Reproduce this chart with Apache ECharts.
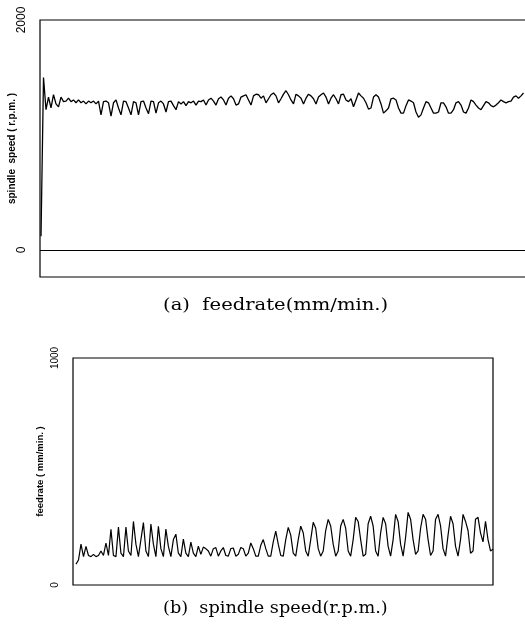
<!DOCTYPE html>
<html>
<head>
<meta charset="utf-8">
<script src="https://cdn.jsdelivr.net/npm/echarts@6/dist/echarts.min.js"></script>
<style>
    html, body { margin: 0; padding: 0; background: #fff; }
    #chart { width: 525px; height: 625px; }
</style>
</head>
<body>
<div id="chart"></div>
<script>
// (a) 主轴转速 spindle speed (r.p.m.), one sample every ~2.5 px
const spindleSpeed = [
    120, 1500, 1220, 1330, 1235, 1350, 1270, 1245, 1330, 1290,
    1295, 1320, 1290, 1305, 1280, 1305, 1280, 1295, 1270, 1295,
    1280, 1295, 1270, 1295, 1175, 1290, 1295, 1280, 1165, 1280,
    1305, 1235, 1175, 1295, 1290, 1235, 1175, 1290, 1280, 1175,
    1290, 1295, 1235, 1185, 1295, 1290, 1190, 1280, 1295, 1270,
    1200, 1290, 1295, 1255, 1220, 1290, 1270, 1290, 1255, 1290,
    1280, 1295, 1260, 1295, 1290, 1305, 1260, 1305, 1320, 1295,
    1260, 1315, 1330, 1305, 1260, 1320, 1340, 1315, 1260, 1270,
    1330, 1340, 1350, 1305, 1260, 1340, 1355, 1350, 1320, 1340,
    1280, 1315, 1350, 1365, 1340, 1280, 1315, 1355, 1385, 1350,
    1305, 1270, 1355, 1340, 1320, 1270, 1320, 1355, 1340, 1315,
    1270, 1330, 1350, 1365, 1330, 1270, 1320, 1350, 1315, 1270,
    1350, 1355, 1305, 1290, 1315, 1245, 1305, 1365, 1340, 1320,
    1280, 1225, 1235, 1330, 1350, 1330, 1270, 1190, 1210, 1235,
    1315, 1320, 1305, 1235, 1190, 1190, 1255, 1305, 1295, 1280,
    1200, 1155, 1175, 1235, 1290, 1280, 1235, 1190, 1190, 1200,
    1280, 1280, 1245, 1190, 1190, 1220, 1280, 1290, 1260, 1200,
    1190, 1235, 1305, 1290, 1260, 1235, 1220, 1255, 1290, 1280,
    1255, 1245, 1260, 1280, 1305, 1290, 1280, 1290, 1295, 1330,
    1340, 1320, 1340, 1365
];

// (b) 进给速度 feedrate (mm/min.)
const feedrate = [
    92, 110, 180, 125, 170, 130, 125, 135, 125, 130,
    150, 130, 185, 130, 245, 130, 125, 255, 140, 125,
    255, 150, 130, 280, 180, 125, 200, 275, 150, 125,
    268, 180, 125, 259, 160, 125, 246, 170, 125, 200,
    224, 140, 125, 202, 140, 125, 189, 140, 125, 171,
    135, 167, 160, 150, 127, 160, 165, 127, 150, 165,
    130, 127, 160, 163, 127, 135, 165, 160, 127, 140,
    185, 160, 127, 127, 175, 200, 160, 127, 127, 190,
    237, 180, 130, 127, 200, 254, 220, 140, 127, 200,
    259, 230, 150, 127, 200, 276, 250, 160, 127, 150,
    240, 289, 260, 180, 127, 150, 260, 289, 250, 150,
    127, 200, 298, 280, 200, 127, 135, 270, 303, 260,
    150, 127, 230, 298, 270, 170, 127, 200, 311, 280,
    180, 127, 210, 320, 290, 200, 135, 150, 250, 311,
    290, 200, 130, 150, 290, 311, 260, 160, 127, 220,
    303, 270, 170, 127, 200, 311, 280, 240, 140, 150,
    290, 298, 230, 190, 281, 200, 150, 158
];

// 刻度标签
const spindleTicks = [0, 2000];
const feedrateTicks = [0, 1000];

const chart = echarts.init(document.getElementById('chart'));

const toPairs = arr => arr.map((v, i) => [i, v]);

const axisFont = 'Liberation Sans, Arial, sans-serif';
const captionFont = '17px "DejaVu Serif", serif';

const option = {
    animation: false,
    backgroundColor: '#fff',
    // 图下说明文字
    graphic: [
        {
            type: 'text', x: 163, y: 306, scaleX: 1.15,
            style: { text: '(a)  feedrate(mm/min.)', font: captionFont, fill: '#000', textAlign: 'left', textVerticalAlign: 'middle' }
        },
        {
            type: 'text', x: 163, y: 609, scaleX: 1.04,
            style: { text: '(b)  spindle speed(r.p.m.)', font: captionFont, fill: '#000', textAlign: 'left', textVerticalAlign: 'middle' }
        }
    ],
    grid: [
        { left: 40, top: 20, width: 490, height: 257, show: true, borderColor: '#000', borderWidth: 1.2, outerBoundsMode: 'none', containLabel: false },
        { left: 73, top: 358, width: 420, height: 227, show: true, borderColor: '#000', borderWidth: 1.2, outerBoundsMode: 'none', containLabel: false }
    ],
    xAxis: [
        {
            gridIndex: 0, type: 'value', min: -0.4, max: 195.6,
            axisLine: { show: false }, axisTick: { show: false },
            axisLabel: { show: false }, splitLine: { show: false }
        },
        {
            gridIndex: 1, type: 'value', min: -1.2, max: 167,
            axisLine: { show: false }, axisTick: { show: false },
            axisLabel: { show: false }, splitLine: { show: false }
        }
    ],
    yAxis: [
        {
            gridIndex: 0, type: 'value', min: -235, max: 2000,
            name: 'spindle  speed ( r.p.m. )',
            nameLocation: 'middle',
            nameGap: 23,
            nameMoveOverlap: false,
            nameTextStyle: { fontFamily: axisFont, fontWeight: 'bold', fontSize: 10, color: '#000' },
            axisLine: { show: false },
            axisTick: { show: false },
            splitLine: { show: false },
            axisLabel: {
                customValues: spindleTicks,
                formatter: v => String(v),
                rotate: 90,
                margin: 12,
                fontFamily: axisFont, fontSize: 12, color: '#000'
            }
        },
        {
            gridIndex: 1, type: 'value', min: 0, max: 1000,
            name: 'feedrate ( mm/min. )',
            nameLocation: 'middle',
            nameGap: 28,
            nameMoveOverlap: false,
            nameTextStyle: { fontFamily: axisFont, fontWeight: 'bold', fontSize: 9.5, color: '#000' },
            axisLine: { show: false },
            axisTick: { show: false },
            splitLine: { show: false },
            axisLabel: {
                customValues: feedrateTicks,
                formatter: v => String(v),
                rotate: 90,
                margin: 13,
                fontFamily: axisFont, fontSize: 10, color: '#000'
            }
        }
    ],
    series: [
        {
            type: 'line',
            xAxisIndex: 0, yAxisIndex: 0,
            data: toPairs(spindleSpeed),
            symbol: 'none',
            lineStyle: { color: '#000', width: 1.3 },
            markLine: { // 零线
                silent: true,
                symbol: 'none',
                label: { show: false },
                lineStyle: { color: '#000', width: 1.2, type: 'solid' },
                data: [{ yAxis: 0 }]
            }
        },
        {
            type: 'line',
            xAxisIndex: 1, yAxisIndex: 1,
            data: toPairs(feedrate),
            symbol: 'none',
            lineStyle: { color: '#000', width: 1.2 }
        }
    ]
};

chart.setOption(option);
</script>
</body>
</html>
